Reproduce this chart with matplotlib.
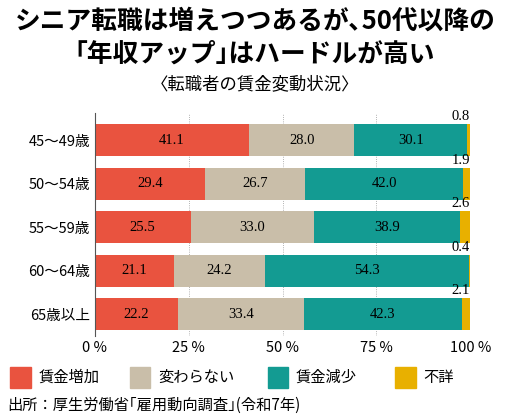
import matplotlib
matplotlib.use("Agg")
import matplotlib.pyplot as plt
import numpy as np

plt.rcParams['font.family'] = ['Noto Sans CJK JP', 'DejaVu Sans']

ages = ["45～49歳", "50～54歳", "55～59歳", "60～64歳", "65歳以上"]
up = [41.1, 29.4, 25.5, 21.1, 22.2]
same = [28.0, 26.7, 33.0, 24.2, 33.4]
down = [30.1, 42.0, 38.9, 54.3, 42.3]
unknown = [0.8, 1.9, 2.6, 0.4, 2.1]
series = ["賃金増加", "変わらない", "賃金減少", "不詳"]
colors = ["#e9533f", "#c9bea9", "#139b92", "#e8b000"]
xticks = [0, 25, 50, 75, 100]

fig = plt.figure(figsize=(5.1, 4.2), dpi=100)
ax = fig.add_axes([0.186, 0.2, 0.736, 0.53])
y = np.arange(len(ages))
left = np.zeros(len(ages))
for vals, c in zip([up, same, down, unknown], colors):
    ax.barh(y, vals, left=left, color=c, height=0.74, zorder=2)
    left += np.array(vals)
for i in range(len(ages)):
    lft = 0
    for vals in [up, same, down]:
        ax.text(lft + vals[i] / 2, i, f"{vals[i]:.1f}", ha="center", va="center",
                fontsize=10.5, family="Liberation Serif", zorder=3)
        lft += vals[i]
    ax.text(97.5, i - 0.39, f"{unknown[i]:.1f}", ha="center", va="bottom",
            fontsize=10.5, family="Liberation Serif")
ax.set_ylim(len(ages) - 0.5, -0.62)
ax.set_xlim(0, 100)
ax.set_yticks(y, ages, fontsize=10.5)
ax.set_xticks(xticks, [f"{t} %" for t in xticks], fontsize=10.5)
ax.tick_params(length=0)
ax.grid(axis="x", color="#999999", lw=0.6, ls=":", zorder=0)
for s in ["top", "right", "bottom"]:
    ax.spines[s].set_visible(False)
ax.spines["left"].set_color("#555555")

fig.text(0.5, 0.95, "シニア転職は増えつつあるが､50代以降の", ha="center", va="center",
         fontsize=18.5, fontweight="bold")
fig.text(0.5, 0.872, "｢年収アップ｣はハードルが高い", ha="center", va="center",
         fontsize=18.5, fontweight="bold")
fig.text(0.5, 0.8, "〈転職者の賃金変動状況〉", ha="center", va="center", fontsize=12.5)

lx = [0.02, 0.255, 0.525, 0.775]
for x, lab, c in zip(lx, series, colors):
    fig.patches.append(plt.Rectangle((x, 0.077), 0.04, 0.05, color=c,
                                     transform=fig.transFigure))
    fig.text(x + 0.055, 0.102, lab, va="center", fontsize=11)
fig.text(0.015, 0.035, "出所：厚生労働省｢雇用動向調査｣(令和7年)", va="center", fontsize=11)

fig.savefig("out.png")
